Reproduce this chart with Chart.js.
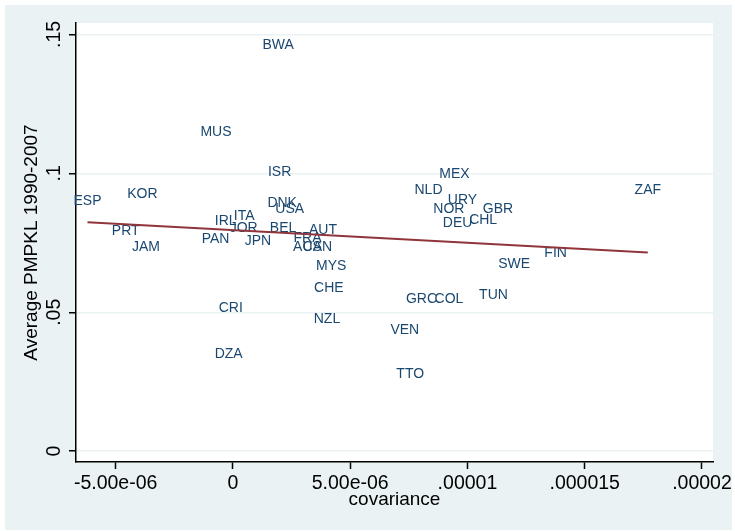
<!DOCTYPE html>
<html>
<head>
<meta charset="utf-8">
<script src="https://cdn.jsdelivr.net/npm/chart.js@4.4.1/dist/chart.umd.min.js"></script>
<style>
  html, body { margin: 0; padding: 0; background: #ffffff; }
  #wrap { width: 735px; height: 531px; }
</style>
</head>
<body>
<div id="wrap"><canvas id="c" width="735" height="531"></canvas></div>
<script>
// ---- data ----
const countries = ["BWA","MUS","ISR","ESP","KOR","DNK","USA","ITA","IRL","JOR","BEL","AUT","PRT","PAN","JPN","FRA","JAM","AUS","CAN","MYS","CHE","CRI","NZL","DZA","MEX","NLD","URY","NOR","GBR","DEU","CHL","ZAF","FIN","SWE","TUN","GRC","COL","VEN","TTO"];
const covariance = [1.93e-6,-0.72e-6,1.99e-6,-6.20e-6,-3.86e-6,2.10e-6,2.42e-6,0.48e-6,-0.31e-6,0.46e-6,2.14e-6,3.84e-6,-4.57e-6,-0.74e-6,1.07e-6,3.18e-6,-3.71e-6,3.18e-6,3.60e-6,4.19e-6,4.09e-6,-0.09e-6,4.01e-6,-0.18e-6,9.45e-6,8.34e-6,9.79e-6,9.21e-6,11.30e-6,9.58e-6,10.67e-6,17.69e-6,13.76e-6,11.99e-6,11.11e-6,8.04e-6,9.21e-6,7.33e-6,7.56e-6];
const pmpkl = [0.1463,0.1148,0.1005,0.0900,0.0926,0.0894,0.0872,0.0846,0.0828,0.0802,0.0802,0.0796,0.0793,0.0763,0.0757,0.0766,0.0736,0.0736,0.0736,0.0666,0.0587,0.0516,0.0476,0.0349,0.0998,0.0940,0.0904,0.0872,0.0872,0.0822,0.0832,0.0940,0.0712,0.0673,0.0561,0.0547,0.0547,0.0435,0.0277];
const fitX = [-6.20e-6, 17.69e-6];
const fitY = [0.0824, 0.0715];
const xTickValues = [-5e-6, 0, 5e-6, 1e-5, 1.5e-5, 2e-5];
const xTickLabels = ["-5.00e-06", "0", "5.00e-06", ".00001", ".000015", ".00002"];
const yTickValues = [0, 0.05, 0.1, 0.15];
const yTickLabels = ["0", ".05", ".1", ".15"];
const xTitle = "covariance";
const yTitle = "Average PMPKL 1990-2007";

// ---- styling ----
const BG = "#eaf2f3";
const LABEL_COLOR = "#1a476f";
const FIT_COLOR = "#90353b";
const FONT = "'Liberation Sans', Arial, sans-serif";

const points = countries.map((c, i) => ({ x: covariance[i], y: pmpkl[i] }));
const fitPoints = fitX.map((x, i) => ({ x: x, y: fitY[i] }));

const bgPlugin = {
  id: "bg",
  beforeDraw(chart) {
    const ctx = chart.ctx, a = chart.chartArea;
    ctx.save();
    ctx.fillStyle = "#ffffff";
    ctx.fillRect(0, 0, chart.width, chart.height);
    ctx.fillStyle = BG;
    ctx.fillRect(5, 5, 727, 525);
    ctx.fillStyle = "#ffffff";
    ctx.fillRect(a.left, a.top, a.right - a.left, a.bottom - a.top);
    ctx.restore();
  }
};

const labelPlugin = {
  id: "mlabels",
  beforeDatasetsDraw(chart) {
    const ctx = chart.ctx;
    const meta = chart.getDatasetMeta(1);
    ctx.save();
    ctx.fillStyle = LABEL_COLOR;
    ctx.font = "14px " + FONT;
    ctx.textAlign = "center";
    ctx.textBaseline = "middle";
    meta.data.forEach((el, i) => {
      ctx.fillText(countries[i], el.x, el.y);
    });
    ctx.restore();
  }
};

const axisTextPlugin = {
  id: "axisText",
  afterDraw(chart) {
    const ctx = chart.ctx, a = chart.chartArea;
    const xs = chart.scales.x, ys = chart.scales.y;
    ctx.save();
    ctx.fillStyle = "#000000";
    ctx.font = "19.5px " + FONT;
    ctx.textAlign = "center";
    ctx.textBaseline = "middle";
    xTickValues.forEach((v, i) => {
      ctx.fillText(xTickLabels[i], xs.getPixelForValue(v), a.bottom + 22);
    });
    yTickValues.forEach((v, i) => {
      ctx.save();
      ctx.translate(a.left - 21, ys.getPixelForValue(v));
      ctx.rotate(-Math.PI / 2);
      ctx.fillText(yTickLabels[i], 0, 0);
      ctx.restore();
    });
    ctx.font = "19px " + FONT;
    ctx.fillText(xTitle, (a.left + a.right) / 2, a.bottom + 38);
    ctx.save();
    ctx.translate(32, (a.top + a.bottom) / 2);
    ctx.rotate(-Math.PI / 2);
    ctx.fillText(yTitle, 0, 0);
    ctx.restore();
    ctx.restore();
  }
};

new Chart(document.getElementById("c"), {
  type: "scatter",
  data: {
    datasets: [
      {
        label: "Fitted values",
        data: fitPoints,
        showLine: true,
        borderColor: FIT_COLOR,
        borderWidth: 2,
        pointRadius: 0,
        pointHoverRadius: 0,
        fill: false
      },
      {
        label: "Average PMPKL",
        data: points,
        pointRadius: 0,
        pointHoverRadius: 0,
        backgroundColor: "rgba(0,0,0,0)",
        borderColor: "rgba(0,0,0,0)"
      }
    ]
  },
  options: {
    responsive: false,
    animation: false,
    events: [],
    layout: { padding: { left: 69, top: 23, right: 22, bottom: 62 } },
    plugins: {
      legend: { display: false },
      tooltip: { enabled: false },
      title: { display: false }
    },
    scales: {
      x: {
        type: "linear",
        min: -6.69e-6,
        max: 2.047e-5,
        afterBuildTicks: s => { s.ticks = xTickValues.map(v => ({ value: v })); },
        afterFit: s => { s.height = 7; },
        ticks: { display: false },
        grid: {
          drawOnChartArea: false,
          drawTicks: true,
          tickLength: 7,
          tickColor: "#000000",
          tickWidth: 1.5
        },
        border: { display: true, color: "#000000", width: 1.5 }
      },
      y: {
        type: "linear",
        min: -0.00389,
        max: 0.1541,
        afterBuildTicks: s => { s.ticks = yTickValues.map(v => ({ value: v })); },
        afterFit: s => { s.width = 7; },
        ticks: { display: false },
        grid: {
          color: BG,
          lineWidth: 1.5,
          drawTicks: true,
          tickLength: 7,
          tickColor: "#000000",
          tickWidth: 1.5
        },
        border: { display: true, color: "#000000", width: 1.5 }
      }
    }
  },
  plugins: [bgPlugin, labelPlugin, axisTextPlugin]
});
</script>
</body>
</html>
